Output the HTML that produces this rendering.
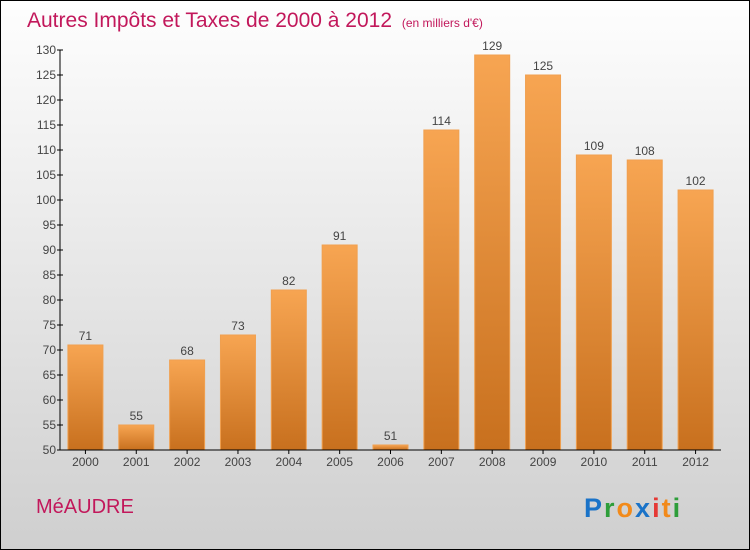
<!DOCTYPE html>
<html><head><meta charset="utf-8"><style>
html,body{margin:0;padding:0}
body{width:750px;height:550px;overflow:hidden;font-family:"Liberation Sans",sans-serif}
#wrap{position:absolute;left:0;top:0;width:748px;height:548px;border:1px solid #000;background:linear-gradient(#fefefe,#cfcfcf)}
</style></head><body>
<div id="wrap">
<svg id="chart" width="748" height="548" viewBox="1 1 748 548" style="position:absolute;left:0;top:0">
<defs><linearGradient id="bg" x1="0" y1="0" x2="0" y2="1"><stop offset="0" stop-color="#f7a552"/><stop offset="1" stop-color="#c8701e"/></linearGradient></defs>
<text x="27" y="27" font-size="21" fill="#c2185b">Autres Impôts et Taxes de 2000 à 2012 <tspan font-size="12" dx="4">(en milliers d'€)</tspan></text>
<g id="bars"></g><g id="axes"></g>
<text x="36" y="513" font-size="20" fill="#c2185b">MéAUDRE</text>
<text x="584" y="517" font-size="27" font-weight="bold" letter-spacing="2"><tspan fill="#1a73c8">P</tspan><tspan fill="#2e9e3a">r</tspan><tspan fill="#f28a1a">o</tspan><tspan fill="#1a73c8">x</tspan><tspan fill="#e53935">i</tspan><tspan fill="#f28a1a">t</tspan><tspan fill="#2e9e3a">i</tspan></text>
</svg></div>
<script>
const categories=["2000","2001","2002","2003","2004","2005","2006","2007","2008","2009","2010","2011","2012"];
const values=[71,55,68,73,82,91,51,114,129,125,109,108,102];
const yTicks=[50,55,60,65,70,75,80,85,90,95,100,105,110,115,120,125,130];
const NS="http://www.w3.org/2000/svg";
const x0=60,x1=721,yMin=50,yMax=130,py0=450,py1=50;
const slot=(x1-x0)/categories.length;
const xc=i=>x0+slot*(i+0.5);
const y=v=>py0-(v-yMin)/(yMax-yMin)*(py0-py1);
function mk(t,a,p){const e=document.createElementNS(NS,t);for(const k in a)e.setAttribute(k,a[k]);p.appendChild(e);return e;}
const bars=document.getElementById('bars'),axes=document.getElementById('axes');
values.forEach((v,i)=>{
 const r=mk('rect',{x:xc(i)-17.5,y:y(v),width:35,height:py0-y(v),fill:'url(#bg)',stroke:'#f0a050','stroke-width':1},bars);
 
 
 const t=mk('text',{x:xc(i),y:y(v)-5,'text-anchor':'middle','font-size':12,fill:'#444'},bars);
 t.textContent=v;
 
 
 const c=mk('text',{x:xc(i),y:466,'text-anchor':'middle','font-size':12,fill:'#444'},axes);
 c.textContent=categories[i];
 
 
 mk('line',{x1:xc(i),x2:xc(i),y1:py0,y2:py0+4,stroke:'#000'},axes);
});
yTicks.forEach(v=>{
 mk('line',{x1:x0-3,x2:x0+3,y1:y(v),y2:y(v),stroke:'#000'},axes);
 const t=mk('text',{x:x0-4,y:y(v)+4,'text-anchor':'end','font-size':12,fill:'#444'},axes);
 t.textContent=v;
 
 
});
const ya=mk('line',{x1:x0,x2:x0,y1:py1,y2:py0,stroke:'#000'},axes);


const xa=mk('line',{x1:x0,x2:x1,y1:py0,y2:py0,stroke:'#000'},axes);


</script>
</body></html>
